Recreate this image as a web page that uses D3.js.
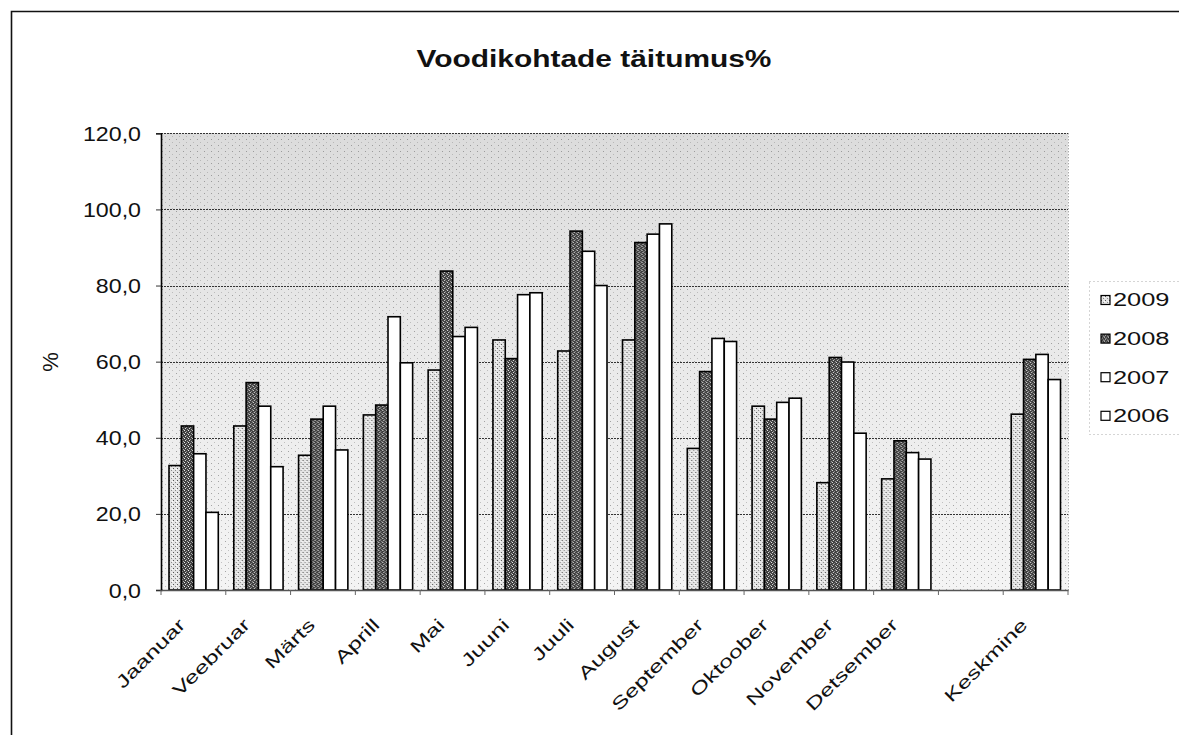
<!DOCTYPE html>
<html><head><meta charset="utf-8">
<script src="https://cdn.jsdelivr.net/npm/d3@7"></script>
<style>
body{margin:0;background:#fff}
svg{display:block}
text{font-family:"Liberation Sans",Arial,sans-serif;fill:#111}
</style>
</head><body>
<svg id="c" width="1179" height="735"></svg>
<script>
// ---- data ----
const categories = ["Jaanuar","Veebruar","Märts","Aprill","Mai","Juuni","Juuli","August","September","Oktoober","November","Detsember"," ","Keskmine"];
const seriesNames = ["2009","2008","2007","2006"];
const v2009 = [32.7,43.1,35.4,46.0,57.8,65.7,62.8,65.7,37.2,48.3,28.2,29.2,null,46.2];
const v2008 = [43.1,54.5,44.9,48.6,83.8,60.8,94.3,91.3,57.4,44.9,61.1,39.2,null,60.6];
const v2007 = [35.8,48.3,48.3,71.8,66.6,77.6,89.0,93.5,66.1,49.3,59.9,36.1,null,61.9];
const v2006 = [20.4,32.4,36.8,59.7,69.0,78.1,80.0,96.2,65.3,50.4,41.2,34.4,null,55.3];
const yTicks = [0,20,40,60,80,100,120];
const titleText = "Voodikohtade täitumus%";
const yAxisTitle = "%";

const seriesValues = [v2009, v2008, v2007, v2006];

// ---- layout ----
const svg = d3.select("#c");
const plot = {left:161, right:1068, top:133.3, bottom:590};

const defs = svg.append("defs");
const g1 = defs.append("linearGradient").attr("id","bgGrad").attr("x1",0).attr("y1",0).attr("x2",0).attr("y2",1);
g1.append("stop").attr("offset","0%").attr("stop-color","#dcdcdc");
g1.append("stop").attr("offset","45%").attr("stop-color","#e9e9e9");
g1.append("stop").attr("offset","100%").attr("stop-color","#f4f4f4");
const pb = defs.append("pattern").attr("id","bgDots").attr("width",7).attr("height",6).attr("patternUnits","userSpaceOnUse");
pb.append("rect").attr("x",1).attr("y",1).attr("width",1).attr("height",1).attr("fill","#666");
pb.append("rect").attr("x",4).attr("y",4).attr("width",1).attr("height",1).attr("fill","#999");
const p1 = defs.append("pattern").attr("id","light").attr("width",4).attr("height",4).attr("patternUnits","userSpaceOnUse");
p1.append("rect").attr("width",4).attr("height",4).attr("fill","#e4e4e4");
p1.append("rect").attr("x",0).attr("y",0).attr("width",1).attr("height",1).attr("fill","#555");
p1.append("rect").attr("x",2).attr("y",2).attr("width",1).attr("height",1).attr("fill","#888");
p1.append("rect").attr("x",3).attr("y",1).attr("width",1).attr("height",1).attr("fill","#fff");
const p2 = defs.append("pattern").attr("id","dark").attr("width",4).attr("height",4).attr("patternUnits","userSpaceOnUse");
p2.append("rect").attr("width",4).attr("height",4).attr("fill","#404040");
p2.append("rect").attr("x",0).attr("y",0).attr("width",1).attr("height",1).attr("fill","#ddd");
p2.append("rect").attr("x",2).attr("y",1).attr("width",1).attr("height",1).attr("fill","#aaa");
p2.append("rect").attr("x",1).attr("y",3).attr("width",1).attr("height",1).attr("fill","#999");
p2.append("rect").attr("x",3).attr("y",2).attr("width",1).attr("height",1).attr("fill","#eee");

const fills = ["url(#light)","url(#dark)","#fff","#fff"];

// outer frame
svg.append("path").attr("d","M11.5,740 V11.5 H1185").attr("fill","none").attr("stroke","#111").attr("stroke-width",1.6);

// scales
const x0 = d3.scaleBand().domain(categories).range([plot.left, plot.right]).paddingInner(0).paddingOuter(0);
const x1 = d3.scaleBand().domain(seriesNames).range([8, x0.bandwidth()-7.5]).padding(0);
const y = d3.scaleLinear().domain([0,120]).range([plot.bottom, plot.top]);

// plot background
svg.append("rect").attr("x",plot.left).attr("y",plot.top).attr("width",plot.right-plot.left).attr("height",plot.bottom-plot.top).attr("fill","url(#bgGrad)");
svg.append("rect").attr("x",plot.left).attr("y",plot.top).attr("width",plot.right-plot.left).attr("height",plot.bottom-plot.top).attr("fill","url(#bgDots)").attr("opacity",0.55);

// gridlines
svg.append("g").selectAll("line").data(yTicks.filter(d=>d>0)).join("line")
  .attr("x1",plot.left).attr("x2",plot.right)
  .attr("y1",d=>Math.round(y(d))+0.5).attr("y2",d=>Math.round(y(d))+0.5)
  .attr("stroke","#333").attr("stroke-width",1).attr("stroke-dasharray","2,1");
svg.append("line").attr("x1",plot.right+0.5).attr("x2",plot.right+0.5).attr("y1",plot.top).attr("y2",plot.bottom)
  .attr("stroke","#888").attr("stroke-dasharray","1,2");

// bars
const groups = svg.append("g").selectAll("g").data(categories).join("g")
  .attr("transform", d=>`translate(${x0(d)},0)`);
groups.selectAll("rect").data((c,i)=>seriesNames.map((s,j)=>({s, j, v:seriesValues[j][i]})).filter(d=>d.v!=null))
  .join("rect")
  .attr("x", d=>x1(d.s)).attr("width", x1.bandwidth())
  .attr("y", d=>y(d.v)).attr("height", d=>y(0)-y(d.v))
  .attr("fill", d=>fills[d.j]).attr("stroke","#000").attr("stroke-width",1.6);

function stretch(sel, f){ sel.each(function(){ const L=this.getComputedTextLength(); d3.select(this).attr("textLength",L*f).attr("lengthAdjust","spacingAndGlyphs"); }); }

// y axis
const yAxis = svg.append("g").attr("transform",`translate(${plot.left},0)`)
  .call(d3.axisLeft(y).tickValues(yTicks).tickSize(5).tickFormat(d=>d3.format(".1f")(d).replace(".",",")));
yAxis.select(".domain").attr("stroke","#000").attr("stroke-width",1.6);
yAxis.selectAll(".tick line").attr("stroke","#333");
yAxis.selectAll(".tick text").attr("font-size",20).attr("fill","#111").attr("x",-20).attr("dy","0.35em")
  .style("font-family","'Liberation Sans',Arial,sans-serif");
stretch(yAxis.selectAll(".tick text"),1.16);

// x axis
const xAxis = svg.append("g").attr("transform",`translate(0,${plot.bottom})`)
  .call(d3.axisBottom(x0).tickSize(0).tickFormat(""));
xAxis.select(".domain").attr("stroke","#555").attr("stroke-width",1.5);
svg.append("g").selectAll("line").data(d3.range(categories.length+1)).join("line")
  .attr("x1",i=>plot.left+i*x0.step()).attr("x2",i=>plot.left+i*x0.step())
  .attr("y1",plot.bottom).attr("y2",plot.bottom+5).attr("stroke","#666");
const xl = svg.append("g").selectAll("text").data(categories.filter(c=>c.trim()!=="")).join("text")
  .attr("transform", d=>`translate(${x0(d)+x0.bandwidth()/2-7},${plot.bottom+36}) rotate(-45)`)
  .attr("text-anchor","end").attr("font-size",17.5).text(d=>d);
stretch(xl,1.42);

// title
const t = svg.append("text").attr("x",594).attr("y",67).attr("text-anchor","middle")
  .attr("font-size",23).attr("font-weight","bold").text(titleText);
stretch(t,1.3);

// y axis title
svg.append("text").attr("transform","translate(58,362) rotate(-90)").attr("text-anchor","middle")
  .attr("font-size",22).text(yAxisTitle);

// legend
svg.append("rect").attr("x",1089.5).attr("y",281.5).attr("width",120).attr("height",153)
  .attr("fill","none").attr("stroke","#aaa").attr("stroke-dasharray","1,3");
const leg = svg.append("g").selectAll("g").data(seriesNames).join("g")
  .attr("transform",(d,i)=>`translate(1101,${300+i*38.6})`);
leg.append("rect").attr("x",0).attr("y",-4.5).attr("width",9).attr("height",9)
  .attr("fill",(d,i)=>fills[i]).attr("stroke","#000").attr("stroke-width",1.2);
const lt = leg.append("text").attr("x",12).attr("y",0).attr("dy","0.36em").attr("font-size",17.5).text(d=>d);
stretch(lt,1.45);
</script>
</body></html>
